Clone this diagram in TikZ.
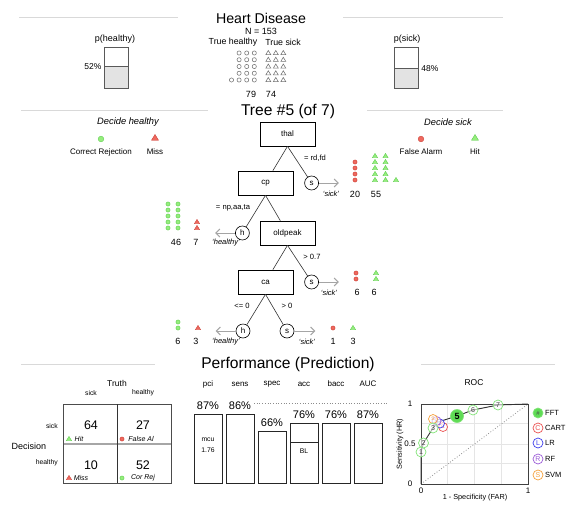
\documentclass[tikz,border=0pt]{standalone}
\usepackage{fontspec}
\setmainfont{Liberation Sans}
\usetikzlibrary{arrows.meta, positioning, shapes.geometric}

\definecolor{hdrgray}{RGB}{217,217,217}
\definecolor{exitgray}{RGB}{165,165,165}
\definecolor{crfill}{RGB}{150,238,125}
\definecolor{credge}{RGB}{95,205,80}
\definecolor{fafill}{RGB}{238,105,95}
\definecolor{faedge}{RGB}{205,65,55}
\definecolor{fftgreen}{RGB}{95,220,85}
\definecolor{fftedge}{RGB}{130,228,120}
\definecolor{cartred}{RGB}{235,80,80}
\definecolor{lrblue}{RGB}{60,60,235}
\definecolor{rfpurple}{RGB}{155,90,215}
\definecolor{svmorange}{RGB}{245,160,60}

\newcommand{\fsz}[1]{\fontsize{#1}{#1}\selectfont}
% pic, count, x, bottom y, column step, row step
\newcommand{\symstack}[6]{%
  \foreach \k in {1,...,#2}{%
    \pgfmathsetmacro{\cx}{#3+int((\k-1)/5)*(#5)}%
    \pgfmathsetmacro{\cy}{#4-mod(\k-1,5)*(#6)}%
    \pic at (\cx,\cy) {#1};
  }}

\begin{document}
\begin{tikzpicture}[x=1pt, y=-1pt,
     hdr/.style={draw=hdrgray, line width=0.8pt},
sectitle/.style={font=\fsz{15.6}, inner sep=0pt},
     txt/.style={font=\fsz{#1}, inner sep=0pt},
    itxt/.style={font=\fsz{#1}\itshape, inner sep=0pt},
    pbar/.style={draw=black!65, line width=0.9pt},
  cuebox/.style={draw, line width=0.6pt, fill=white, minimum width=55pt,
                 minimum height=24pt, inner sep=0pt, font=\fsz{8}},
exitnode/.style={draw, circle, line width=0.6pt, fill=white, minimum size=14pt,
                 inner sep=0pt, font=\fsz{8}},
  branch/.style={draw=black!80, line width=0.6pt},
exitarrow/.style={draw=exitgray, line width=1pt, -{Straight Barb[length=4pt, width=8pt]}},
   fftpt/.style={circle, draw=fftedge, fill=white, fill opacity=0.6, text opacity=1,
                 line width=0.7pt, minimum size=10pt, inner sep=0pt, font=\fsz{7},
                 text=black!75},
   algpt/.style={circle, draw=#1, text=#1, fill=white, fill opacity=0.6,
                 text opacity=1, line width=0.7pt, minimum size=9pt, inner sep=0pt,
                 font=\fsz{5}},
   crdot/.pic={\filldraw[draw=credge, fill=crfill, line width=0.4pt] (0,0) circle (2.1pt);},
   fadot/.pic={\filldraw[draw=faedge, fill=fafill, line width=0.4pt] (0,0) circle (2.1pt);},
 hitmark/.pic={\filldraw[draw=credge, fill=crfill, line width=0.4pt]
               (-2.6,1.7) -- (2.6,1.7) -- (0,-2.6) -- cycle;},
missmark/.pic={\filldraw[draw=faedge, fill=fafill, line width=0.4pt]
               (-2.6,1.7) -- (2.6,1.7) -- (0,-2.6) -- cycle;},
 opendot/.pic={\draw[black!55, line width=0.55pt] (0,0) circle (2.1pt);},
 opentri/.pic={\draw[black!55, line width=0.55pt]
               (-2.5,1.7) -- (2.5,1.7) -- (0,-2.5) -- cycle;},
  ]
\useasboundingbox (0,0) rectangle (576,504);

%% data
\draw[hdr] (19,17) -- (178,17);
\draw[hdr] (343,17) -- (503,17);
\node[txt=14.2] (title) at (261,18) {Heart Disease};
\node[txt=9] (ntot) at (261,31) {N = 153};
\node[txt=8.8] (trueh) at (233,42) {True healthy};
\node[txt=8.8] (trues) at (283,42) {True sick};
\symstack{opendot}{16}{254.3}{80}{-7.6}{6.75}
\symstack{opentri}{15}{268.3}{80}{7.5}{6.75}
\node[txt=9] (n79) at (251,94) {79};
\node[txt=9] (n74) at (271,94) {74};

\node[txt=9] (ph) at (115,39) {p(healthy)};
\fill[gray!22] (104,66.7) rectangle (128.3,88);
\draw[pbar] (104,66.7) -- (128.3,66.7);
\draw[pbar] (104,47) rectangle (128.3,88);
\node[txt=8.5] (phv) at (93,67) {52\%};

\node[txt=9] (ps) at (407,39) {p(sick)};
\fill[gray!22] (394.3,68.3) rectangle (418.6,88);
\draw[pbar] (394.3,68.3) -- (418.6,68.3);
\draw[pbar] (394.3,47) rectangle (418.6,88);
\node[txt=8.5] (psv) at (430,69) {48\%};

%% tree
\draw[hdr] (21,110) -- (208,110);
\draw[hdr] (367,110) -- (503,110);
\node[sectitle] (treetitle) at (288,111) {Tree \#5 (of 7)};

\node[itxt=9.3] (dech) at (128,122) {Decide healthy};
\pic[scale=1.35] at (101,139) {crdot};
\node[txt=8] (lcr) at (101,152) {Correct Rejection};
\pic[scale=1.35] at (155,138) {missmark};
\node[txt=8] (lmiss) at (155,152) {Miss};
\node[itxt=9.3] (decs) at (448,122) {Decide sick};
\pic[scale=1.35] at (421,139) {fadot};
\node[txt=8] (lfa) at (421,152) {False Alarm};
\pic[scale=1.35] at (475,138) {hitmark};
\node[txt=8] (lhit) at (475,152) {Hit};

\node[cuebox] (thal) at (287.5,134) {thal};
\node[cuebox] (cp) at (265.5,183) {cp};
\node[cuebox] (oldpeak) at (287.5,233) {oldpeak};
\node[cuebox] (ca) at (265.5,282) {ca};
\node[exitnode, right=11pt of cp] (s1) {s};
\node[exitnode, left=10pt of oldpeak] (h1) {h};
\node[exitnode, right=11pt of ca] (s2) {s};
\node[exitnode] (h2) at (243,331) {h};
\node[exitnode] (s3) at (287,331) {s};

\draw[branch] (thal.south) -- (cp);
\draw[branch] (thal.south) -- (s1);
\draw[branch] (cp.south) -- (oldpeak);
\draw[branch] (cp.south) -- (h1);
\draw[branch] (oldpeak.south) -- (ca);
\draw[branch] (oldpeak.south) -- (s2);
\draw[branch] (ca.south) -- (h2);
\draw[branch] (ca.south) -- (s3);

\node[txt=7.6] (c1) at (315,158) {= rd,fd};
\node[txt=7.6] (c2) at (233,208) {= np,aa,ta};
\node[txt=7.6] (c3) at (312,257) {> 0.7};
\node[txt=7.6] (c4) at (242,306) {<= 0};
\node[txt=7.6] (c5) at (287,306) {> 0};

\coordinate[right=20pt of s1.east] (e1);
\coordinate[left=20pt of h1.west] (e2);
\coordinate[right=20pt of s2.east] (e3);
\coordinate[left=20pt of h2.west] (e4);
\coordinate[right=21pt of s3.east] (e5);
\draw[exitarrow] (s1) -- (e1);
\draw[exitarrow] (h1) -- (e2);
\draw[exitarrow] (s2) -- (e3);
\draw[exitarrow] (h2) -- (e4);
\draw[exitarrow] (s3) -- (e5);
\node[itxt=7.5] (x1) at (331,194) {`sick'};
\node[itxt=7.5] (x2) at (226,243) {`healthy'};
\node[itxt=7.5] (x3) at (329,293) {`sick'};
\node[itxt=7.5] (x4) at (226,342) {`healthy'};
\node[itxt=7.5] (x5) at (307,342) {`sick'};

\symstack{fadot}{4}{355}{180}{10}{6}
\symstack{hitmark}{11}{375}{180}{10.5}{6}
\node[txt=9] (la1) at (355,194) {20};
\node[txt=9] (la2) at (376,194) {55};
\symstack{crdot}{10}{168}{228}{10}{6}
\symstack{missmark}{2}{197}{228}{10}{6}
\node[txt=9] (lb1) at (176,242) {46};
\node[txt=9] (lb2) at (196,242) {7};
\symstack{fadot}{2}{356}{279}{10}{6}
\symstack{hitmark}{2}{376}{279}{10}{6}
\node[txt=9] (lc1) at (357,292) {6};
\node[txt=9] (lc2) at (374,292) {6};
\symstack{crdot}{2}{178}{328}{10}{6}
\symstack{missmark}{1}{198}{328}{10}{6}
\node[txt=9] (ld1) at (178,341) {6};
\node[txt=9] (ld2) at (196,341) {3};
\symstack{fadot}{1}{333}{328}{10}{6}
\symstack{hitmark}{1}{353}{328}{10}{6}
\node[txt=9] (le1) at (333,341) {1};
\node[txt=9] (le2) at (353,341) {3};

%% performance
\draw[hdr] (21,364) -- (155,364);
\draw[hdr] (421,364) -- (555,364);
\node[sectitle] (perftitle) at (288,364) {Performance (Prediction)};

\node[txt=8.5] (truth) at (117,383) {Truth};
\node[txt=6.8] (tsick) at (91,393) {sick};
\node[txt=6.8] (thealthy) at (143,393) {healthy};
\node[txt=6.8, anchor=east] (dsick) at (58,426) {sick};
\node[txt=6.8, anchor=east] (dhealthy) at (58,463) {healthy};
\node[txt=9] (decision) at (29,446) {Decision};
\draw[black!70, line width=0.8pt] (63,404) rectangle (171,483);
\draw[black!35, line width=1.6pt] (63.5,444) -- (170.5,444);
\draw[black!80, line width=0.6pt] (117,404) -- (117,483);
\node[txt=12.5] (nhit) at (91,425) {64};
\node[txt=12.5] (nfa) at (143,425) {27};
\node[txt=12.5] (nmiss) at (91,465) {10};
\node[txt=12.5] (ncr) at (143,465) {52};
\pic at (69,439) {hitmark};
\node[itxt=7] (thit) at (79,439) {Hit};
\pic at (122,439) {fadot};
\node[itxt=7] (tfa) at (141,439) {False Al};
\pic at (69,478) {missmark};
\node[itxt=7] (tmiss) at (81,478) {Miss};
\pic at (122,478) {crdot};
\node[itxt=7] (tcr) at (143,478) {Cor Rej};

\draw[black!45, dotted, line width=0.7pt] (254,403) -- (387,403);
\foreach \xl/\yt/\lab/\val in {194/414/pci/87\%, 226/414/sens/86\%, 258/431/spec/66\%,
                               290/423/acc/76\%, 322/423/bacc/76\%, 354/423/AUC/87\%}{
  \draw[black!85, line width=0.6pt] (\xl,\yt) rectangle (\xl+28,483);
  \node[txt=8] (lab-\lab) at (\xl+14,384) {\lab};
  \node[txt=11] (val-\lab) at (\xl+14,\yt-8) {\val};
}
\node[txt=6.8] (mcu) at (208,440) {mcu};
\node[txt=6.8] (mcuv) at (208,450) {1.76};
\draw[black!85, line width=0.6pt] (290,442) -- (318,442);
\node[txt=6.8] (bl) at (304,451) {BL};

%% roc
\node[txt=8.5] (roc) at (474,383) {ROC};
\foreach \g in {447.75,474.5,501.25}{
  \draw[black!10, line width=0.8pt] (\g,404) -- (\g,484);
}
\foreach \g in {423.75,444,463.75}{
  \draw[black!10, line width=0.8pt] (421,\g) -- (528,\g);
}
\draw[black!45, dotted, line width=0.8pt] (421,484) -- (528,404);
\draw[black!75, line width=1pt] (421,404) rectangle (528,484);
\node[txt=8] (y1) at (410,404) {1};
\node[txt=8] (y5) at (410,444) {0.5};
\node[txt=8] (y0) at (410,484) {0};
\node[txt=8] (x0) at (421,491) {0};
\node[txt=8] (x1) at (528,491) {1};
\node[txt=7.3] (xlab) at (475,498) {1 - Specificity (FAR)};
\node[txt=7.3, rotate=90] (ylab) at (400,444) {Sensitivity (HR)};

\coordinate (o) at (421,484);
\coordinate (q) at (528,404);
\coordinate (p1) at (421,452);
\coordinate (p2) at (423.5,443);
\coordinate (p3) at (433,428);
\coordinate (p4) at (438,422);
\coordinate (p5) at (457,416);
\coordinate (p6) at (473,410);
\coordinate (p7) at (498,405);
\draw[black!80, line width=0.9pt] (o) -- (p1) -- (p2) -- (p3) -- (p4) -- (p5)
  -- (p6) -- (p7) -- (q);
\node[algpt=cartred] (cart) at (443,427) {C};
\node[algpt=lrblue] (lr) at (440,423.5) {L};
\node[algpt=rfpurple] (rf) at (436.5,421) {R};
\node[algpt=svmorange] (svm) at (433,419) {S};
\node[fftpt] (fft1) at (p1) {1};
\node[fftpt] (fft2) at (p2) {2};
\node[fftpt] (fft3) at (p3) {3};
\node[fftpt] (fft6) at (p6) {6};
\node[fftpt] (fft7) at (p7) {7};
\node[fftpt, fill=fftgreen, fill opacity=1, minimum size=13pt, font=\fsz{9}\bfseries,
      text=black] (fft5) at (p5) {5};

\node[fftpt, fill=fftgreen, fill opacity=1, font=\fsz{6}, text=black!70] (legfft)
  at (538,413) {\#};
\node[txt=7.5, anchor=west] (labfft) at (545,413) {FFT};
\foreach \yy/\sym/\nm/\col in {428/C/CART/cartred, 443/L/LR/lrblue,
                                459/R/RF/rfpurple, 475/S/SVM/svmorange}{
  \node[algpt=\col, minimum size=10pt, font=\fsz{7}] (leg\nm) at (538,\yy) {\sym};
  \node[txt=7.5, anchor=west] (lab\nm) at (545,\yy) {\nm};
}
\end{tikzpicture}
\end{document}
